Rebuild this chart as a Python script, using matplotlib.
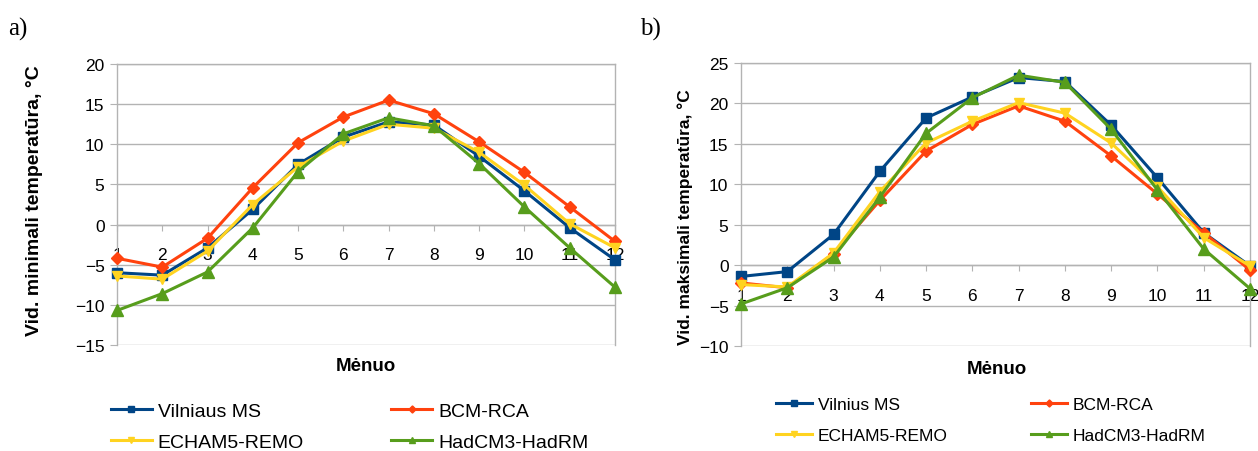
import matplotlib
matplotlib.use("Agg")
import matplotlib.pyplot as plt

plt.rcParams['font.family'] = ['Liberation Sans', 'DejaVu Sans']

months = list(range(1, 13))
series_names_a = ["Vilniaus MS", "BCM-RCA", "ECHAM5-REMO", "HadCM3-HadRM"]
series_names_b = ["Vilnius MS", "BCM-RCA", "ECHAM5-REMO", "HadCM3-HadRM"]

# vidutines minimalios temperaturos
tmin_vilnius = [-6.0, -6.3, -2.9, 1.9, 7.5, 10.9, 12.8, 12.4, 8.5, 4.2, -0.4, -4.4]
tmin_bcm = [-4.2, -5.3, -1.7, 4.6, 10.2, 13.4, 15.5, 13.8, 10.3, 6.5, 2.2, -2.1]
tmin_echam = [-6.4, -6.8, -3.3, 2.5, 7.2, 10.4, 12.5, 12.0, 9.0, 4.9, 0.1, -2.9]
tmin_hadcm = [-10.7, -8.6, -5.9, -0.4, 6.6, 11.3, 13.3, 12.3, 7.6, 2.2, -2.9, -7.8]

# vidutines maksimalios temperaturos
tmax_vilnius = [-1.4, -0.8, 3.8, 11.6, 18.2, 20.8, 23.2, 22.7, 17.3, 10.8, 4.0, -0.1]
tmax_bcm = [-2.2, -2.8, 1.4, 8.0, 14.1, 17.4, 19.7, 17.8, 13.5, 8.8, 4.0, -0.6]
tmax_echam = [-2.4, -2.7, 1.5, 9.1, 15.1, 17.8, 20.1, 18.8, 15.1, 9.7, 3.4, -0.1]
tmax_hadcm = [-4.8, -2.8, 1.0, 8.4, 16.3, 20.7, 23.5, 22.6, 16.8, 9.3, 2.0, -2.9]

colors = ["#004586", "#ff420e", "#ffd320", "#579d1c"]
markers = ["s", "D", "v", "^"]
msizes = [7, 6, 7, 8]
grid_col = "#b3b3b3"

W, H = 1258, 452
fig = plt.figure(figsize=(W / 100, H / 100), dpi=100)


def px(x0, y0, x1, y1):
    return [x0 / W, 1 - y1 / H, (x1 - x0) / W, (y1 - y0) / H]


def draw(ax, data, names, yticks, ylabel, ylab_font, ylab_xy, xlab_xy,
         leg_xy, leg_font, leg_sp, leg_colsp):
    for vals, name, c, m, ms in zip(data, names, colors, markers, msizes):
        ax.plot(months, vals, color=c, lw=2.2, marker=m, markersize=ms,
                label=name, clip_on=False, zorder=3)
    ax.set_xlim(1, 12)
    ax.set_ylim(yticks[0], yticks[-1])
    ax.set_yticks(yticks)
    ax.set_xticks(months)
    ax.grid(axis='y', color=grid_col, lw=1)
    ax.set_axisbelow(True)
    for s in ax.spines.values():
        s.set_color(grid_col)
        s.set_linewidth(1)
    ax.spines['bottom'].set_position(('data', 0))
    ax.tick_params(axis='y', length=5, color=grid_col, pad=4, labelsize=12.5)
    ax.tick_params(axis='x', length=4.5, color=grid_col, pad=12, labelsize=12.5)
    fig.text(ylab_xy[0] / W, 1 - ylab_xy[1] / H, ylabel, rotation=90,
             ha='center', va='center', fontsize=ylab_font, fontweight='bold')
    fig.text(xlab_xy[0] / W, 1 - xlab_xy[1] / H, "Mėnuo",
             ha='center', va='center', fontsize=13.5, fontweight='bold')
    # two columns filled row by row
    h, l = ax.get_legend_handles_labels()
    order = [0, 2, 1, 3]
    fig.legend([h[i] for i in order], [l[i] for i in order], loc='upper left',
               bbox_to_anchor=(leg_xy[0] / W, 1 - leg_xy[1] / H),
               ncol=2, frameon=False, fontsize=leg_font, borderpad=0,
               borderaxespad=0, handlelength=2.1, handletextpad=0.3,
               labelspacing=leg_sp, columnspacing=leg_colsp, markerscale=0.6)


ax1 = fig.add_axes(px(117, 65, 615, 346))
draw(ax1, [tmin_vilnius, tmin_bcm, tmin_echam, tmin_hadcm], series_names_a,
     [-15, -10, -5, 0, 5, 10, 15, 20], "Vid. minimali temperatūra, °C", 14,
     (35, 201), (366, 367), (111, 403), 14, 0.7, 4.5)

ax2 = fig.add_axes(px(741, 64, 1250, 347))
draw(ax2, [tmax_vilnius, tmax_bcm, tmax_echam, tmax_hadcm], series_names_b,
     [-10, -5, 0, 5, 10, 15, 20, 25], "Vid. maksimali temperatūra, °C", 12.5,
     (685, 217), (997, 370), (776, 398), 12.5, 0.9, 4.8)

fig.text(8 / W, 1 - 29 / H, "a)", family='Liberation Serif', fontsize=18, va='center')
fig.text(640 / W, 1 - 29 / H, "b)", family='Liberation Serif', fontsize=18, va='center')

fig.savefig("out.png", dpi=100)
